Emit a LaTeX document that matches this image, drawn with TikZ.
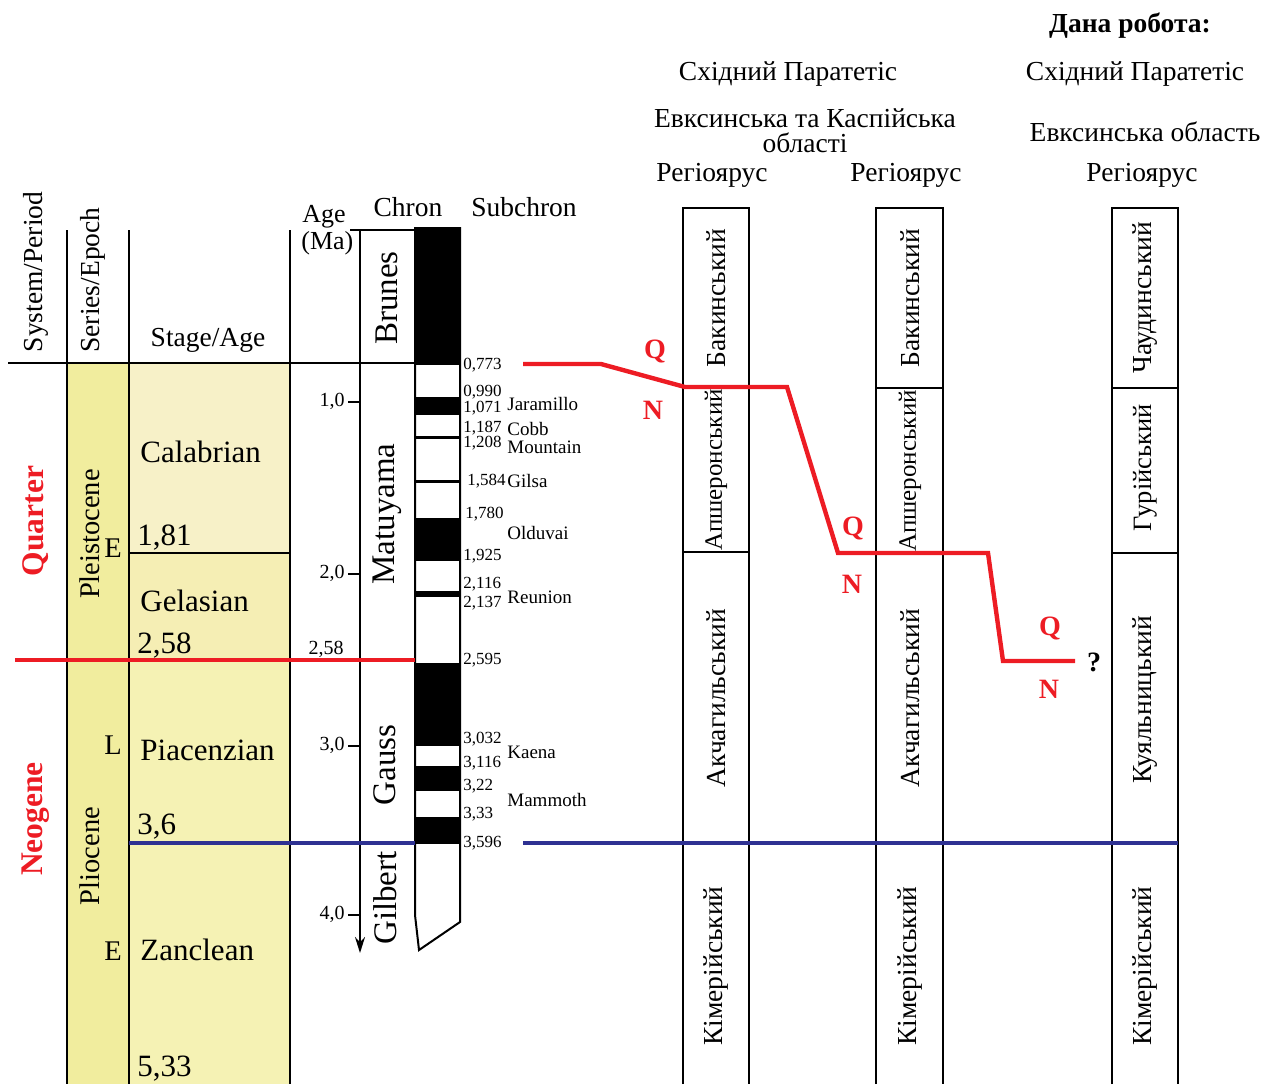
\documentclass[tikz,border=0pt]{standalone}
\usepackage{fontspec}
\setmainfont{Liberation Serif}
\usetikzlibrary{arrows.meta}
\definecolor{qred}{HTML}{ED1C24}
\definecolor{qblue}{HTML}{2E3192}
\definecolor{serfill}{HTML}{F1ED9E}
\definecolor{calfill}{HTML}{F7F1C8}
\definecolor{gelfill}{HTML}{F5EEB4}
\definecolor{plifill}{HTML}{F5F2B4}
\begin{document}
\begin{tikzpicture}[x=0.5pt,y=-0.5pt,
  hd/.style={font=\fontsize{13.75}{15}\selectfont,inner sep=0pt},
  stg/.style={font=\fontsize{15.5}{17}\selectfont,anchor=west,inner sep=0pt},
  chr/.style={font=\fontsize{16.5}{18}\selectfont,rotate=90,inner sep=0pt},
  era/.style={font=\fontsize{15.75}{17}\selectfont\bfseries,text=qred,rotate=90,inner sep=0pt},
  ep/.style={font=\fontsize{14.25}{16}\selectfont,inner sep=0pt},
  reg/.style={font=\fontsize{13.75}{15}\selectfont,rotate=90,inner sep=0pt},
  tick/.style={font=\fontsize{10}{11}\selectfont,anchor=east,inner sep=0pt},
  num/.style={font=\fontsize{8.5}{9}\selectfont,anchor=west,inner sep=0pt},
  sub/.style={font=\fontsize{9.5}{10}\selectfont,anchor=west,inner sep=0pt},
  qn/.style={font=\fontsize{14}{15}\selectfont\bfseries,text=qred,inner sep=0pt},
  frame/.style={line width=1pt},
  redline/.style={draw=qred,line width=2.2pt},
  blueline/.style={draw=qblue,line width=2pt}
]
\useasboundingbox (0,0) rectangle (1263,1084);
\fill[serfill] (67,363) rectangle (129,1084);
\fill[calfill] (129,363) rectangle (290,553);
\fill[gelfill] (129,553) rectangle (290,660);
\fill[plifill] (129,660) rectangle (290,1084);
\draw[frame] (8,363) -- (415,363);
\draw[frame] (67,230) -- (67,1084);
\draw[frame] (129,230) -- (129,1084);
\draw[frame] (290,230) -- (290,1084);
\draw[frame] (129,553) -- (290,553);
\draw[frame] (350,230) -- (415,230);
\draw[frame,-{Stealth[length=8pt,width=5pt]}] (360,230) -- (360,953);
\draw[frame] (348,402) -- (360,402);
\draw[frame] (348,574) -- (360,574);
\draw[frame] (348,746) -- (360,746);
\draw[frame] (348,915) -- (360,915);
\fill (415,228) rectangle (460,365);
\fill (415,397) rectangle (460,415);
\fill (415,436) rectangle (460,439);
\fill (415,480) rectangle (460,483);
\fill (415,518) rectangle (460,561);
\fill (415,591) rectangle (460,597);
\fill (415,663) rectangle (460,746);
\fill (415,766) rectangle (460,791);
\fill (415,817) rectangle (460,844);
\draw[frame] (415,228) -- (415,915) -- (419,950) -- (460,922) -- (460,228) -- cycle;
\draw[frame] (683,1084) -- (683,208) -- (749,208) -- (749,1084);
\draw[frame] (683,387) -- (749,387);
\draw[frame] (683,552) -- (749,552);
\draw[frame] (876,1084) -- (876,208) -- (943,208) -- (943,1084);
\draw[frame] (876,388) -- (943,388);
\draw[frame] (876,553) -- (943,553);
\draw[frame] (1112,1084) -- (1112,208) -- (1178,208) -- (1178,1084);
\draw[frame] (1112,388) -- (1178,388);
\draw[frame] (1112,553) -- (1178,553);
\draw[redline] (15,660) -- (415,660);
\draw[blueline] (129,843) -- (415,843);
\draw[blueline] (523,843) -- (1178,843);
\draw[redline] (523,364) -- (601,364) -- (685,387) -- (787,387) -- (838,553)
  -- (988,553) -- (1003,661) -- (1075,661);
\node[hd,font=\fontsize{13.75}{15}\selectfont\bfseries] (dana) at (1130,26) {Дана робота:};
\node[hd] (paratA) at (788,74) {Східний Паратетіс};
\node[hd] (paratC) at (1135,74) {Східний Паратетіс};
\node[hd,align=center,font=\fontsize{13.75}{12.5}\selectfont] (areaA) at (805,131)
  {Евксинська та Каспійська\\області};
\node[hd] (areaC) at (1145,132) {Евксинська область};
\node[hd] (regA) at (712,175) {Регіоярус};
\node[hd] (regB) at (906,175) {Регіоярус};
\node[hd] (regC) at (1142,175) {Регіоярус};
\node[hd,rotate=90] (system) at (36,272) {System/Period};
\node[hd,rotate=90] (series) at (93,280) {Series/Epoch};
\node[hd] (stage) at (208,340) {Stage/Age};
\node[hd,font=\fontsize{13}{14}\selectfont,anchor=west] (age) at (302,217) {Age};
\node[hd,font=\fontsize{13}{14}\selectfont,anchor=west] (ma) at (301,243) {(Ma)};
\node[hd] (chron) at (408,207) {Chron};
\node[hd] (subchron) at (524,207) {Subchron};
\node[era] (quarter) at (36,521) {Quarter};
\node[era] (neogene) at (36,819) {Neogene};
\node[ep,rotate=90] (pleist) at (90,534) {Pleistocene};
\node[ep,rotate=90] (plio) at (90,856) {Pliocene};
\node[ep] (pleistE) at (113,548) {E};
\node[ep] (plioL) at (113,745) {L};
\node[ep] (plioE) at (113,951) {E};
\node[stg] (calab) at (140,452) {Calabrian};
\node[stg] (calabB) at (137,538) {1,81};
\node[stg] (gelas) at (140,601) {Gelasian};
\node[stg] (gelasB) at (137,646) {2,58};
\node[stg] (piac) at (140,750) {Piacenzian};
\node[stg] (piacB) at (137,827) {3,6};
\node[stg] (zancl) at (140,950) {Zanclean};
\node[stg] (zanclB) at (137,1069) {5,33};
\node[tick] (tA) at (345,401) {1,0};
\node[tick] (tB) at (345,573) {2,0};
\node[tick] (tC) at (345,745) {3,0};
\node[tick] (tD) at (345,914) {4,0};
\node[tick] (tGSSP) at (344,649) {2,58};
\node[chr] (brunes) at (387,298) {Brunes};
\node[chr] (matuyama) at (387,514) {Matuyama};
\node[chr] (gauss) at (385,765) {Gauss};
\node[chr] (gilbert) at (385,898) {Gilbert};
\node[num] (nA) at (463,365) {0,773};
\node[num] (nB) at (463,392) {0,990};
\node[num] (nC) at (463,408) {1,071};
\node[num] (nD) at (463,428) {1,187};
\node[num] (nE) at (463,443) {1,208};
\node[num] (nF) at (467,481) {1,584};
\node[num] (nG) at (465,514) {1,780};
\node[num] (nH) at (463,556) {1,925};
\node[num] (nI) at (463,584) {2,116};
\node[num] (nJ) at (463,603) {2,137};
\node[num] (nK) at (463,660) {2,595};
\node[num] (nL) at (463,739) {3,032};
\node[num] (nM) at (463,763) {3,116};
\node[num] (nN) at (463,786) {3,22};
\node[num] (nO) at (463,814) {3,33};
\node[num] (nP) at (463,843) {3,596};
\node[sub] (jaram) at (507,404) {Jaramillo};
\node[sub] (cobb) at (507,429) {Cobb};
\node[sub] (mount) at (507,447) {Mountain};
\node[sub] (gilsa) at (507,481) {Gilsa};
\node[sub] (olduv) at (507,533) {Olduvai};
\node[sub] (reun) at (507,597) {Reunion};
\node[sub] (kaena) at (507,752) {Kaena};
\node[sub] (mamm) at (507,800) {Mammoth};
\node[qn] (qA) at (655,351) {Q};
\node[qn] (nnA) at (653,410) {N};
\node[qn] (qB) at (853,528) {Q};
\node[qn] (nnB) at (852,584) {N};
\node[qn] (qC) at (1050,628) {Q};
\node[qn] (nnC) at (1049,689) {N};
\node[qn,text=black] (quest) at (1094,662) {?};
\node[reg] (bakA) at (716,298) {Бакинський};
\node[reg,font=\fontsize{12.5}{14}\selectfont] (apsA) at (716,470) {Апшеронський};
\node[reg] (akcA) at (716,698) {Акчагильський};
\node[reg] (kimA) at (716,966) {Кімерійський};
\node[reg] (bakB) at (910,298) {Бакинський};
\node[reg,font=\fontsize{12.5}{14}\selectfont] (apsB) at (910,471) {Апшеронський};
\node[reg] (akcB) at (910,698) {Акчагильський};
\node[reg] (kimB) at (910,966) {Кімерійський};
\node[reg] (chaC) at (1145,298) {Чаудинський};
\node[reg,font=\fontsize{13.25}{14}\selectfont] (gurC) at (1145,468) {Гурійський};
\node[reg] (kuyC) at (1145,700) {Куяльницький};
\node[reg] (kimC) at (1145,966) {Кімерійський};
\end{tikzpicture}
\end{document}
